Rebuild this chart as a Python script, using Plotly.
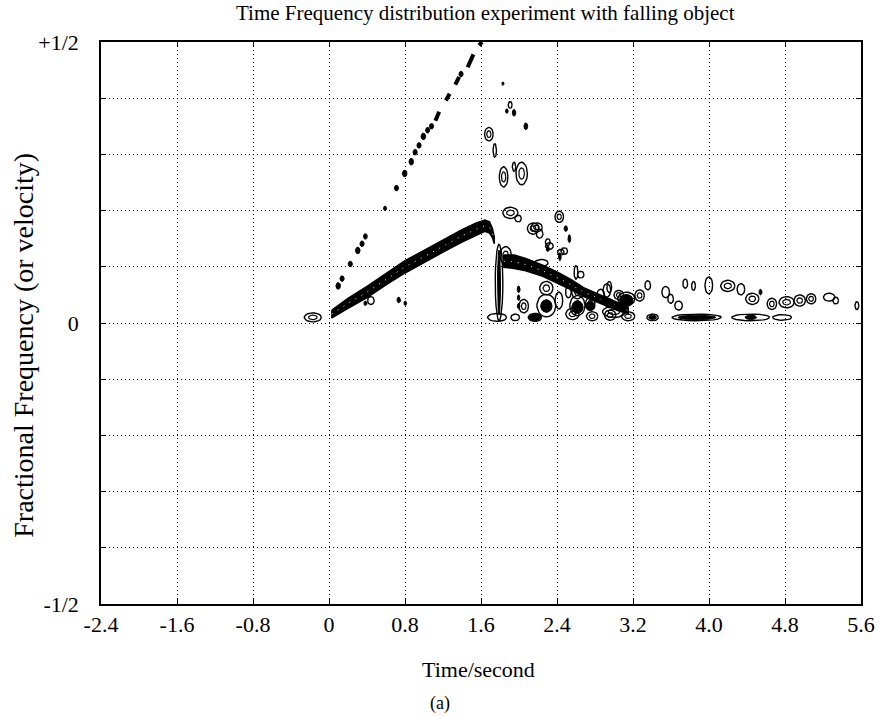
import numpy as np
import plotly.graph_objects as go

# ---------------- text ----------------
title_text = "Time Frequency distribution experiment with falling object"
x_title = "Time/second"
y_title = "Fractional Frequency (or velocity)"
caption = "(a)"

# ---------------- axes ----------------
x_tick_vals = [-2.4, -1.6, -0.8, 0.0, 0.8, 1.6, 2.4, 3.2, 4.0, 4.8, 5.6]
x_tick_text = ["-2.4", "-1.6", "-0.8", "0", "0.8", "1.6", "2.4", "3.2", "4.0", "4.8", "5.6"]
y_tick_vals = [-0.5, -0.4, -0.3, -0.2, -0.1, 0.0, 0.1, 0.2, 0.3, 0.4, 0.5]
y_tick_text = ["-1/2", "", "", "", "", "0", "", "", "", "", "+1/2"]

# ---------------- main chirp ridge (falling object) ----------------
main_t = [0.03, 0.20, 0.40, 0.60, 0.80, 1.00, 1.20, 1.40, 1.55, 1.64, 1.69, 1.72, 1.74]
main_f = [0.016, 0.035, 0.055, 0.078, 0.100, 0.118, 0.137, 0.155, 0.167, 0.173, 0.170, 0.160, 0.147]
main_hw = [0.007, 0.009, 0.010, 0.010, 0.011, 0.011, 0.011, 0.011, 0.011, 0.010, 0.010, 0.008, 0.006]

# ---------------- echo ridge after impact ----------------
echo_t = [1.84, 1.95, 2.07, 2.25, 2.41, 2.55, 2.68, 2.82, 2.93, 3.06, 3.15]
echo_f = [0.110, 0.109, 0.104, 0.093, 0.080, 0.068, 0.055, 0.045, 0.037, 0.028, 0.022]
echo_hw = [0.011, 0.012, 0.011, 0.010, 0.010, 0.009, 0.008, 0.008, 0.007, 0.007, 0.005]

# ---------------- aliased harmonic streaks (start/end points) ----------------
streak_t0 = [1.12, 1.23, 1.33, 1.46, 1.58]
streak_f0 = [0.360, 0.396, 0.424, 0.455, 0.494]
streak_t1 = [1.16, 1.27, 1.37, 1.52, 1.61]
streak_f1 = [0.376, 0.408, 0.438, 0.478, 0.500]

# ---------------- small filled contour islands ----------------
dot_t = [0.097, 0.138, 0.224, 0.303, 0.348, 0.383, 0.590, 0.710, 0.797, 0.866,
         0.907, 0.948, 0.993, 1.038, 1.079, 1.390,
         1.831, 1.872, 1.948, 2.072, 2.493, 2.303, 0.383, 0.734, 0.803,
         2.168, 3.871, 4.44, 4.542, 3.406, 3.13, 2.615, 2.288, 1.996, 1.996, 1.996, 2.43, 2.53,
         1.79, 2.75, 2.95]
dot_f = [0.066, 0.079, 0.105, 0.129, 0.141, 0.154, 0.204, 0.240, 0.266, 0.287,
         0.304, 0.316, 0.332, 0.343, 0.350, 0.443,
         0.426, 0.377, 0.374, 0.350, 0.168, 0.132, 0.035, 0.041, 0.035,
         0.010, 0.010, 0.010, 0.055, 0.010, 0.040, 0.028, 0.030, 0.060, 0.045, 0.030, 0.118, 0.150,
         0.072, 0.030, 0.035]
dot_rt = [0.024, 0.022, 0.022, 0.024, 0.022, 0.020, 0.016, 0.022, 0.024, 0.024,
          0.022, 0.022, 0.024, 0.022, 0.022, 0.022,
          0.012, 0.014, 0.018, 0.020, 0.018, 0.016, 0.016, 0.018, 0.014,
          0.06, 0.20, 0.06, 0.016, 0.04, 0.07, 0.06, 0.06, 0.015, 0.013, 0.013, 0.014, 0.014,
          0.016, 0.05, 0.05]
dot_rf = [0.006, 0.005, 0.005, 0.006, 0.005, 0.005, 0.004, 0.005, 0.006, 0.006,
          0.005, 0.005, 0.006, 0.005, 0.005, 0.005,
          0.003, 0.004, 0.006, 0.006, 0.005, 0.005, 0.004, 0.005, 0.004,
          0.006, 0.004, 0.004, 0.005, 0.004, 0.011, 0.011, 0.011, 0.006, 0.005, 0.005, 0.007, 0.007,
          0.058, 0.008, 0.008]

# ---------------- open contour islands ----------------
blob_t = [-0.17, 0.441, 1.683, 1.745, 1.838, 1.948, 2.028, 1.907,
          1.910, 1.990, 2.148, 2.217, 2.424, 2.303, 2.441,
          1.79, 1.77, 1.96, 2.168, 2.185, 2.32, 2.477, 2.236, 2.65,
          2.288, 2.615, 2.925, 3.13, 3.27, 3.355, 3.544, 3.596, 3.68, 3.75, 3.837,
          3.998, 4.198, 4.336, 4.456, 4.662, 4.817, 4.955, 5.075, 5.265, 5.334, 5.557,
          2.563, 2.77, 2.96, 3.149, 3.406, 3.871, 4.44, 4.77, 2.288, 2.615, 3.0,
          2.05, 2.42, 2.52, 2.75, 2.86, 3.05, 2.60, 2.95, 1.86]
blob_f = [0.010, 0.040, 0.336, 0.307, 0.260, 0.278, 0.266, 0.388,
          0.196, 0.186, 0.168, 0.159, 0.189, 0.144, 0.126,
          0.072, 0.010, 0.010, 0.010, 0.170, 0.137, 0.128, 0.107, 0.086,
          0.031, 0.031, 0.058, 0.043, 0.049, 0.067, 0.055, 0.043, 0.031, 0.070, 0.066,
          0.067, 0.066, 0.060, 0.043, 0.034, 0.037, 0.040, 0.043, 0.046, 0.040, 0.031,
          0.016, 0.012, 0.014, 0.012, 0.010, 0.010, 0.010, 0.010, 0.062, 0.055, 0.020,
          0.030, 0.040, 0.055, 0.035, 0.050, 0.050, 0.090, 0.064, 0.120]
blob_rt = [0.09, 0.035, 0.045, 0.018, 0.045, 0.018, 0.060, 0.020,
           0.080, 0.035, 0.060, 0.035, 0.045, 0.025, 0.035,
           0.040, 0.10, 0.045, 0.07, 0.06, 0.04, 0.035, 0.07, 0.035,
           0.10, 0.08, 0.04, 0.09, 0.05, 0.03, 0.04, 0.03, 0.04, 0.025, 0.02,
           0.04, 0.075, 0.04, 0.07, 0.05, 0.08, 0.06, 0.05, 0.06, 0.03, 0.02,
           0.07, 0.06, 0.06, 0.07, 0.06, 0.26, 0.20, 0.10, 0.07, 0.06, 0.12,
           0.05, 0.04, 0.03, 0.05, 0.04, 0.05, 0.02, 0.025, 0.06]
blob_rf = [0.008, 0.007, 0.012, 0.012, 0.018, 0.008, 0.020, 0.006,
           0.010, 0.006, 0.010, 0.008, 0.010, 0.006, 0.005,
           0.068, 0.007, 0.006, 0.007, 0.008, 0.006, 0.006, 0.006, 0.006,
           0.020, 0.018, 0.012, 0.012, 0.010, 0.008, 0.010, 0.008, 0.008, 0.008, 0.008,
           0.015, 0.010, 0.010, 0.010, 0.010, 0.010, 0.010, 0.009, 0.007, 0.006, 0.007,
           0.010, 0.008, 0.009, 0.008, 0.006, 0.006, 0.006, 0.005, 0.012, 0.012, 0.010,
           0.012, 0.015, 0.010, 0.010, 0.010, 0.008, 0.012, 0.010, 0.016]


def ellipses(ts, fs, rts, rfs, n=24):
    phi = np.linspace(0, 2 * np.pi, n)
    xs, ys = [], []
    for t, f, rt, rf in zip(ts, fs, rts, rfs):
        xs += list(t + rt * np.cos(phi)) + [None]
        ys += list(f + rf * np.sin(phi)) + [None]
    return xs, ys


def band(ts, fs, hws):
    ts = np.array(ts); fs = np.array(fs); hws = np.array(hws)
    xs = list(ts) + list(ts[::-1]) + [ts[0]]
    ys = list(fs + hws) + list((fs - hws)[::-1]) + [fs[0] + hws[0]]
    return xs, ys


fig = go.Figure()

# ridges
for T, F, H in [(main_t, main_f, main_hw), (echo_t, echo_f, echo_hw)]:
    bx, by = band(T, F, H)
    fig.add_trace(go.Scatter(x=bx, y=by, mode="lines", fill="toself",
                             fillcolor="black", line=dict(color="black", width=1.5),
                             hoverinfo="skip", showlegend=False))
    # inner contour specks
    fig.add_trace(go.Scatter(x=T, y=F, mode="lines",
                             line=dict(color="white", width=1, dash="1px,6px"),
                             hoverinfo="skip", showlegend=False))

# open islands
ox, oy = ellipses(blob_t, blob_f, blob_rt, blob_rf)
fig.add_trace(go.Scatter(x=ox, y=oy, mode="lines", line=dict(color="black", width=1.4),
                         hoverinfo="skip", showlegend=False))
# nested inner contours on the larger islands
big = [i for i in range(len(blob_t)) if blob_rt[i] >= 0.045 and blob_rf[i] >= 0.008]
ix, iy = ellipses([blob_t[i] for i in big], [blob_f[i] for i in big],
                  [blob_rt[i] * 0.5 for i in big], [blob_rf[i] * 0.5 for i in big])
fig.add_trace(go.Scatter(x=ix, y=iy, mode="lines", line=dict(color="black", width=1.2),
                         hoverinfo="skip", showlegend=False))

# filled islands
fx, fy = ellipses(dot_t, dot_f, dot_rt, dot_rf)
fig.add_trace(go.Scatter(x=fx, y=fy, mode="lines", fill="toself", fillcolor="black",
                         line=dict(color="black", width=1), hoverinfo="skip", showlegend=False))

# harmonic streaks
sx, sy = [], []
for a, b, c, d in zip(streak_t0, streak_f0, streak_t1, streak_f1):
    sx += [a, c, None]
    sy += [b, d, None]
fig.add_trace(go.Scatter(x=sx, y=sy, mode="lines", line=dict(color="black", width=4),
                         hoverinfo="skip", showlegend=False))

font = "Liberation Serif, Times New Roman, serif"
fig.update_layout(
    width=887, height=717,
    margin=dict(l=101, r=19, t=42, b=113),
    paper_bgcolor="white", plot_bgcolor="white",
    font=dict(family=font, size=22, color="black"),
    showlegend=False,
    xaxis=dict(range=[-2.4, 5.6], tickvals=x_tick_vals, ticktext=x_tick_text,
               showgrid=True, gridcolor="black", gridwidth=1, griddash="1px,3px",
               showline=True, linecolor="black", linewidth=1.5, mirror="ticks",
               ticks="inside", ticklen=5, tickcolor="black", zeroline=False,
               tickfont=dict(size=22)),
    yaxis=dict(range=[-0.5, 0.5], tickvals=y_tick_vals, ticktext=y_tick_text,
               showgrid=True, gridcolor="black", gridwidth=1, griddash="1px,3px",
               showline=True, linecolor="black", linewidth=1.5, mirror="ticks",
               ticks="inside", ticklen=5, tickcolor="black", zeroline=False,
               tickfont=dict(size=22), ticklabelstandoff=16),
    annotations=[
        dict(text=title_text, x=489, y=717 - 13, showarrow=False, font=dict(size=21)),
        dict(text=x_title, x=482, y=717 - 669, showarrow=False, font=dict(size=22)),
        dict(text=caption, x=443, y=717 - 703, showarrow=False, font=dict(size=18)),
        dict(text=y_title, x=22, y=717 - 345, showarrow=False, font=dict(size=28),
             textangle=-90),
    ],
)

# convert pixel-anchored annotations to paper coordinates
pw, ph = 887 - 101 - 19, 717 - 42 - 113
for ann in fig.layout.annotations:
    ann.xref = "paper"; ann.yref = "paper"
    ann.x = (ann.x - 101) / pw
    ann.y = (ann.y - 113) / ph
    ann.xanchor = "center"; ann.yanchor = "middle"

fig.write_html("out.html")
